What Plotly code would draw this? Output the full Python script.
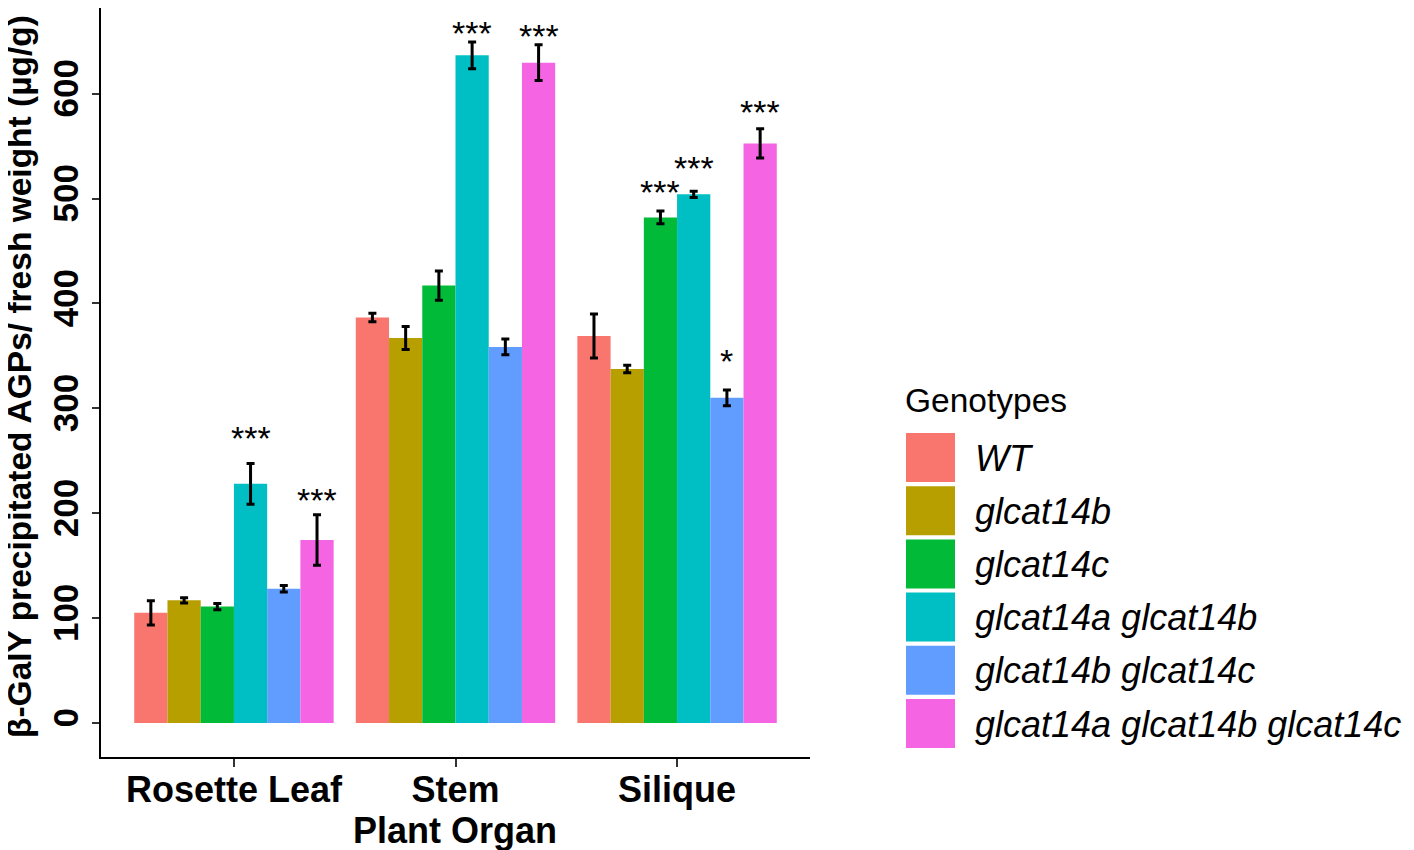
import plotly.graph_objects as go

organs = ['Rosette Leaf', 'Stem', 'Silique']
genotypes = ['WT', 'glcat14b', 'glcat14c', 'glcat14a glcat14b', 'glcat14b glcat14c', 'glcat14a glcat14b glcat14c']
colors = ['#F8766D', '#B79F00', '#00BA38', '#00BFC4', '#619CFF', '#F564E3']

wt = [105, 386.5, 369]
glcat14b = [117, 367, 337.5]
glcat14c = [111, 417, 482]
glcat14ab = [228, 636.5, 504]
glcat14bc = [128, 358.5, 310]
glcat14abc = [174.5, 629.5, 552.5]

wt_err = [11.5, 4, 21]
glcat14b_err = [2.5, 11, 3.5]
glcat14c_err = [3, 14, 6]
glcat14ab_err = [19.5, 12.8, 3]
glcat14bc_err = [3, 7.5, 7.5]
glcat14abc_err = [24, 17, 14]

values = [wt, glcat14b, glcat14c, glcat14ab, glcat14bc, glcat14abc]
errors = [wt_err, glcat14b_err, glcat14c_err, glcat14ab_err, glcat14bc_err, glcat14abc_err]

# significance marks: organ index, genotype index, text, height
star_organ = [0, 0, 1, 1, 2, 2, 2, 2]
star_geno = [3, 5, 3, 5, 2, 3, 4, 5]
star_text = ['***', '***', '***', '***', '***', '***', '*', '***']
star_y = [278, 219, 664, 662, 513, 536, 352, 589]

FONT = 'Liberation Sans, Arial, Helvetica'
W, H = 1414, 850
OFF = 8  # page body margin shifts the figure by 8px
L, R, T, B = 101, 810, 8, 757


def px(x):
    return (x - L) / (R - L)


def py(y):
    return (B - y) / (B - T)


fig = go.Figure()
for g, v, e, c in zip(genotypes, values, errors, colors):
    fig.add_trace(go.Bar(
        x=organs, y=v, name=g, marker_color=c, marker_line_width=0,
        error_y=dict(type='data', array=e, color='black', thickness=3, width=4),
        showlegend=False))

for o, g, t, y in zip(star_organ, star_geno, star_text, star_y):
    fig.add_annotation(x=o - 0.375 + 0.15 * g, y=y, text=t, showarrow=False,
                       xref='x', yref='y', yanchor='middle', yshift=-7,
                       font=dict(family=FONT, size=34, color='black'))

# axis titles placed by hand
fig.add_annotation(x=px(455), y=py(830), xref='paper', yref='paper', text='<b>Plant Organ</b>',
                   showarrow=False, xanchor='center', yanchor='middle',
                   font=dict(family=FONT, size=36, color='black'))
fig.add_annotation(x=px(19), y=py(377), xref='paper', yref='paper',
                   text='<b>β-GalY precipitated AGPs/ fresh weight (µg/g)</b>',
                   showarrow=False, xanchor='center', yanchor='middle', textangle=-90,
                   font=dict(family=FONT, size=33.5, color='black'))

# legend drawn by hand so the keys are large squares
fig.add_annotation(x=px(903), y=py(400), xref='paper', yref='paper', text='Genotypes',
                   showarrow=False, xanchor='left', yanchor='middle',
                   font=dict(family=FONT, size=33.5, color='black'))
for i, (g, c) in enumerate(zip(genotypes, colors)):
    top = 433 + 53.2 * i
    fig.add_shape(type='rect', xref='paper', yref='paper',
                  x0=px(906), x1=px(955), y0=py(top), y1=py(top + 49),
                  fillcolor=c, line_width=0)
    fig.add_annotation(x=px(973), y=py(top + 25), xref='paper', yref='paper',
                       text='<i>' + g + '</i>', showarrow=False,
                       xanchor='left', yanchor='middle',
                       font=dict(family=FONT, size=36, color='black'))

fig.update_layout(
    width=W, height=H,
    margin=dict(l=L - OFF, r=W - R + OFF, t=T - OFF, b=H - B + OFF, autoexpand=False),
    plot_bgcolor='white', paper_bgcolor='white',
    barmode='group', bargap=0.1, bargroupgap=0,
    font=dict(family=FONT, color='black'),
)
fig.update_xaxes(
    range=[-0.6, 2.6], showline=True, linecolor='black', linewidth=2,
    ticks='outside', ticklen=8, tickwidth=2, tickcolor='#333',
    tickfont=dict(size=36, family=FONT, color='black', weight='bold'),
    ticklabelstandoff=-8,
    showgrid=False, zeroline=False, automargin=False,
)
fig.update_yaxes(
    range=[-32.4, 681.6], showline=True, linecolor='black', linewidth=2,
    ticks='outside', ticklen=7, tickwidth=2, tickcolor='#333',
    tickvals=[0, 100, 200, 300, 400, 500, 600], tickangle=-90,
    tickfont=dict(size=35, family=FONT, color='black', weight='bold'),
    showgrid=False, zeroline=False, automargin=False,
)

fig.write_html('out.html')
